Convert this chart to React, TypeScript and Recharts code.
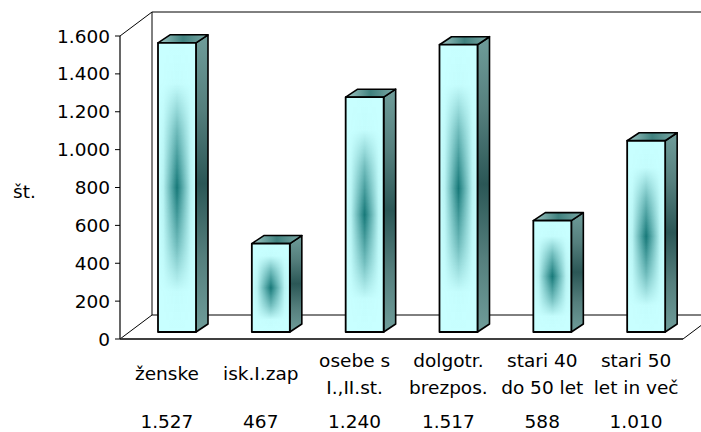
import React from 'react';
import { ComposedChart, Bar, XAxis, YAxis } from 'recharts';

const categoryLines: string[][] = [
  ['ženske'],
  ['isk.I.zap'],
  ['osebe s', 'I.,II.st.'],
  ['dolgotr.', 'brezpos.'],
  ['stari 40', 'do 50 let'],
  ['stari 50', 'let in več'],
];
const values = [1527, 467, 1240, 1517, 588, 1010];
const yTicks = [0, 200, 400, 600, 800, 1000, 1200, 1400, 1600];
const yLabel = 'št.';

const data = categoryLines.map((lines, i) => ({ name: lines.join(' '), lines, value: values[i] }));

// plot geometry (front plane) and 3d depth of the frame
const W = 701;
const H = 432;
const PLOT_LEFT = 120;
const PLOT_RIGHT = 683;
const PLOT_TOP = 36;
const PLOT_BOTTOM = 339;
const DEPTH_X = 32;
const DEPTH_Y = 24;
// bars sit a bit into the depth
const SHIFT_X = 10;
const SHIFT_Y = 7;
const BAR_DX = 12;
const BAR_DY = 8;
const FONT = '"DejaVu Sans", Verdana, sans-serif';
const FS = 18.5;

const fmt = (n: number) => String(n).replace(/\B(?=(\d{3})+(?!\d))/g, '.');

const Bar3D = (props: any) => {
  const { x, y, width: w, height: h } = props;
  if (w == null || h == null) return null;
  const fx = x + SHIFT_X;
  const fy = y - SHIFT_Y;
  const top = `${fx},${fy} ${fx + w},${fy} ${fx + w + BAR_DX},${fy - BAR_DY} ${fx + BAR_DX},${fy - BAR_DY}`;
  const side = `${fx + w},${fy} ${fx + w + BAR_DX},${fy - BAR_DY} ${fx + w + BAR_DX},${fy + h - BAR_DY} ${fx + w},${fy + h}`;
  return (
    <g>
      <polygon points={side} fill="url(#sideGrad)" stroke="#000" strokeWidth={1.6} strokeLinejoin="round" />
      <polygon points={top} fill="url(#topGrad)" stroke="#000" strokeWidth={1.6} strokeLinejoin="round" />
      <rect x={fx} y={fy} width={w} height={h} fill="#c8ffff" />
      <rect x={fx} y={fy} width={w} height={h} fill="url(#frontV)" mask="url(#frontMask)" />
      <rect x={fx} y={fy} width={w} height={h} fill="none" stroke="#000" strokeWidth={1.8} strokeLinejoin="round" />
    </g>
  );
};

const CategoryTick = (props: any) => {
  const { x, payload } = props;
  const d = data[payload.index];
  const lines = d ? d.lines : [String(payload.value)];
  const style = { fontFamily: FONT, fontSize: FS, fill: '#000' };
  const ys = lines.length === 1 ? [PLOT_BOTTOM + 34] : [PLOT_BOTTOM + 21, PLOT_BOTTOM + 48];
  return (
    <g>
      {lines.map((l: string, i: number) => (
        <text key={i} x={x} y={ys[i]} textAnchor="middle" dominantBaseline="central" style={style}>
          {l}
        </text>
      ))}
      <text x={x} y={PLOT_BOTTOM + 82} textAnchor="middle" dominantBaseline="central" style={style}>
        {d ? fmt(d.value) : ''}
      </text>
    </g>
  );
};

const Frame = () => {
  const bx = PLOT_LEFT + DEPTH_X;
  const topY = PLOT_TOP - DEPTH_Y;
  const floorY = PLOT_BOTTOM - DEPTH_Y;
  return (
    <svg width={W} height={H} style={{ position: 'absolute', left: 0, top: 0 }}>
      <defs>
        <linearGradient id="sideGrad" x1="0" y1="0" x2="0" y2="1">
          <stop offset="0%" stopColor="#6f9d9a" />
          <stop offset="25%" stopColor="#557f7d" />
          <stop offset="50%" stopColor="#2b5756" />
          <stop offset="75%" stopColor="#557f7d" />
          <stop offset="100%" stopColor="#6f9d9a" />
        </linearGradient>
        <linearGradient id="topGrad" x1="0" y1="0" x2="1" y2="0">
          <stop offset="0%" stopColor="#a3c9c6" />
          <stop offset="50%" stopColor="#3f817e" />
          <stop offset="100%" stopColor="#7ea9a6" />
        </linearGradient>
        <linearGradient id="frontV" x1="0" y1="0" x2="0" y2="1">
          <stop offset="0%" stopColor="#167878" stopOpacity={0} />
          <stop offset="14%" stopColor="#167878" stopOpacity={0.02} />
          <stop offset="30%" stopColor="#167878" stopOpacity={0.5} />
          <stop offset="50%" stopColor="#167878" stopOpacity={1} />
          <stop offset="70%" stopColor="#167878" stopOpacity={0.5} />
          <stop offset="86%" stopColor="#167878" stopOpacity={0.02} />
          <stop offset="100%" stopColor="#167878" stopOpacity={0} />
        </linearGradient>
        <linearGradient id="frontH" x1="0" y1="0" x2="1" y2="0">
          <stop offset="0%" stopColor="#000" />
          <stop offset="14%" stopColor="#1a1a1a" />
          <stop offset="30%" stopColor="#808080" />
          <stop offset="50%" stopColor="#fff" />
          <stop offset="70%" stopColor="#808080" />
          <stop offset="86%" stopColor="#1a1a1a" />
          <stop offset="100%" stopColor="#000" />
        </linearGradient>
        <mask id="frontMask" maskContentUnits="objectBoundingBox">
          <rect x={0} y={0} width={1} height={1} fill="url(#frontH)" />
        </mask>
      </defs>
      <g stroke="#000" strokeWidth={1}>
        <line x1={bx} y1={topY} x2={bx} y2={floorY} />
        <line x1={bx} y1={topY} x2={W} y2={topY} />
        <line x1={bx} y1={floorY} x2={W} y2={floorY} />
        <line x1={PLOT_LEFT} y1={PLOT_TOP} x2={bx} y2={topY} />
        <line x1={PLOT_LEFT} y1={PLOT_BOTTOM} x2={bx} y2={floorY} />
        <line x1={PLOT_RIGHT} y1={PLOT_BOTTOM} x2={PLOT_RIGHT + DEPTH_X} y2={floorY} />
      </g>
    </svg>
  );
};

export default function App() {
  return (
    <div style={{ position: 'absolute', left: 0, top: 0, width: W, height: H, background: '#fff', fontFamily: FONT }}>
      <Frame />
      <div style={{ position: 'absolute', left: 0, top: 0 }}>
        <ComposedChart
          width={W}
          height={H}
          data={data}
          margin={{ top: PLOT_TOP, right: W - PLOT_RIGHT, bottom: 0, left: 0 }}
        >
          <XAxis
            dataKey="name"
            interval={0}
            height={H - PLOT_BOTTOM}
            tickLine={false}
            axisLine={{ stroke: '#404040', strokeWidth: 2 }}
            tick={<CategoryTick />}
          />
          <YAxis
            width={PLOT_LEFT}
            domain={[0, 1600]}
            ticks={yTicks}
            tickFormatter={fmt}
            tickSize={5}
            tickMargin={5}
            axisLine={{ stroke: '#000', strokeWidth: 1.2 }}
            tickLine={{ stroke: '#000' }}
            tick={{ fill: '#000', fontSize: FS, fontFamily: FONT }}
            label={{ value: yLabel, position: 'insideLeft', offset: 13, dy: 4, style: { fill: '#000', fontSize: FS, fontFamily: FONT } }}
          />
          <Bar dataKey="value" barSize={38} shape={<Bar3D />} isAnimationActive={false} />
        </ComposedChart>
      </div>
    </div>
  );
}
